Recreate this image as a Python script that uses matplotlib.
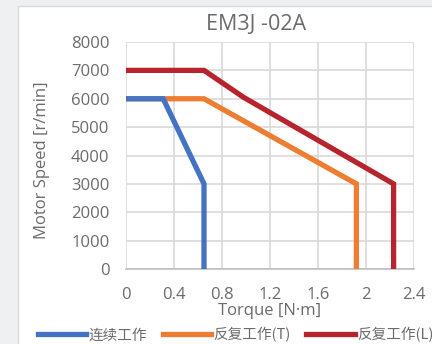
import matplotlib
matplotlib.use("Agg")
import matplotlib.pyplot as plt
from matplotlib.patches import Rectangle

plt.rcParams["font.family"] = ["Noto Sans CJK SC", "DejaVu Sans"]

# speed-torque curves
cont_torque = [0, 0.31, 0.65, 0.65]
cont_speed = [6000, 6000, 3000, 0]
rep_t_torque = [0, 0.65, 1.92, 1.92]
rep_t_speed = [6000, 6000, 3000, 0]
rep_l_torque = [0, 0.65, 0.98, 2.23, 2.23]
rep_l_speed = [7000, 7000, 6050, 3000, 0]

labels = ["连续工作", "反复工作(T)", "反复工作(L)"]
colors = ["#4472c4", "#ed7d31", "#b7242e"]
xticks = [0, 0.4, 0.8, 1.2, 1.6, 2, 2.4]
xticklabels = ["0", "0.4", "0.8", "1.2", "1.6", "2", "2.4"]
yticks = list(range(0, 8001, 1000))

fig = plt.figure(figsize=(4.32, 3.44), dpi=100)
fig.patch.set_facecolor("#eef0f2")
# white chart area with a thin border
fig.patches.append(Rectangle((18 / 432, -0.1), 1.0, 1 - 6 / 344 + 0.1,
                             transform=fig.transFigure, facecolor="white",
                             edgecolor="#d9d9d9", linewidth=1, zorder=-10))

ax = fig.add_axes([126 / 432, 1 - 269 / 344, 288 / 432, 227 / 344])
ax.set_facecolor("white")

series = [(cont_torque, cont_speed), (rep_t_torque, rep_t_speed),
          (rep_l_torque, rep_l_speed)]
# blue sits on top of orange where they overlap
zs = [5, 4, 3]
for (xs, ys), lab, c, z in zip(series, labels, colors, zs):
    ax.plot(xs, ys, color=c, linewidth=3.8, label=lab,
            solid_joinstyle="miter", zorder=z)

ax.set_xlim(0, 2.4)
ax.set_ylim(0, 8000)
ax.set_xticks(xticks)
ax.set_xticklabels(xticklabels)
ax.set_yticks(yticks)
ax.grid(True, color="#d9d9d9", linewidth=1.2)
ax.set_axisbelow(True)
for s in ["top", "right", "left"]:
    ax.spines[s].set_visible(False)
ax.spines["bottom"].set_color("#bfbfbf")
ax.spines["bottom"].set_linewidth(1.2)
ax.tick_params(length=0, colors="#6b6b6b", labelsize=12)
ax.tick_params(axis="x", pad=13)
ax.tick_params(axis="y", pad=12)
for t in ax.get_xticklabels() + ax.get_yticklabels():
    t.set_family(["Open Sans", "DejaVu Sans"])
    t.set_color("#6b6b6b")

fig.text(256 / 432, 1 - 24 / 344, "EM3J -02A", fontsize=15.5,
         color="#6b6b6b", family=["Open Sans", "DejaVu Sans"],
         ha="center", va="center")
ax.set_xlabel("Torque [N·m]", fontsize=12, color="#6b6b6b",
              family=["Open Sans", "DejaVu Sans"], labelpad=0)
ax.set_ylabel("Motor Speed [r/min]", fontsize=12, color="#6b6b6b",
              family=["Open Sans", "DejaVu Sans"])
ax.yaxis.set_label_coords(-0.265, 0.48)

leg = fig.legend(loc="lower left", bbox_to_anchor=(32 / 432, -0.012), ncol=3,
                 frameon=False, fontsize=10.5, handlelength=3.3,
                 handletextpad=0.15, columnspacing=1.1, borderaxespad=0)
for t in leg.get_texts():
    t.set_color("#6b6b6b")

fig.savefig("out.png", dpi=100)
